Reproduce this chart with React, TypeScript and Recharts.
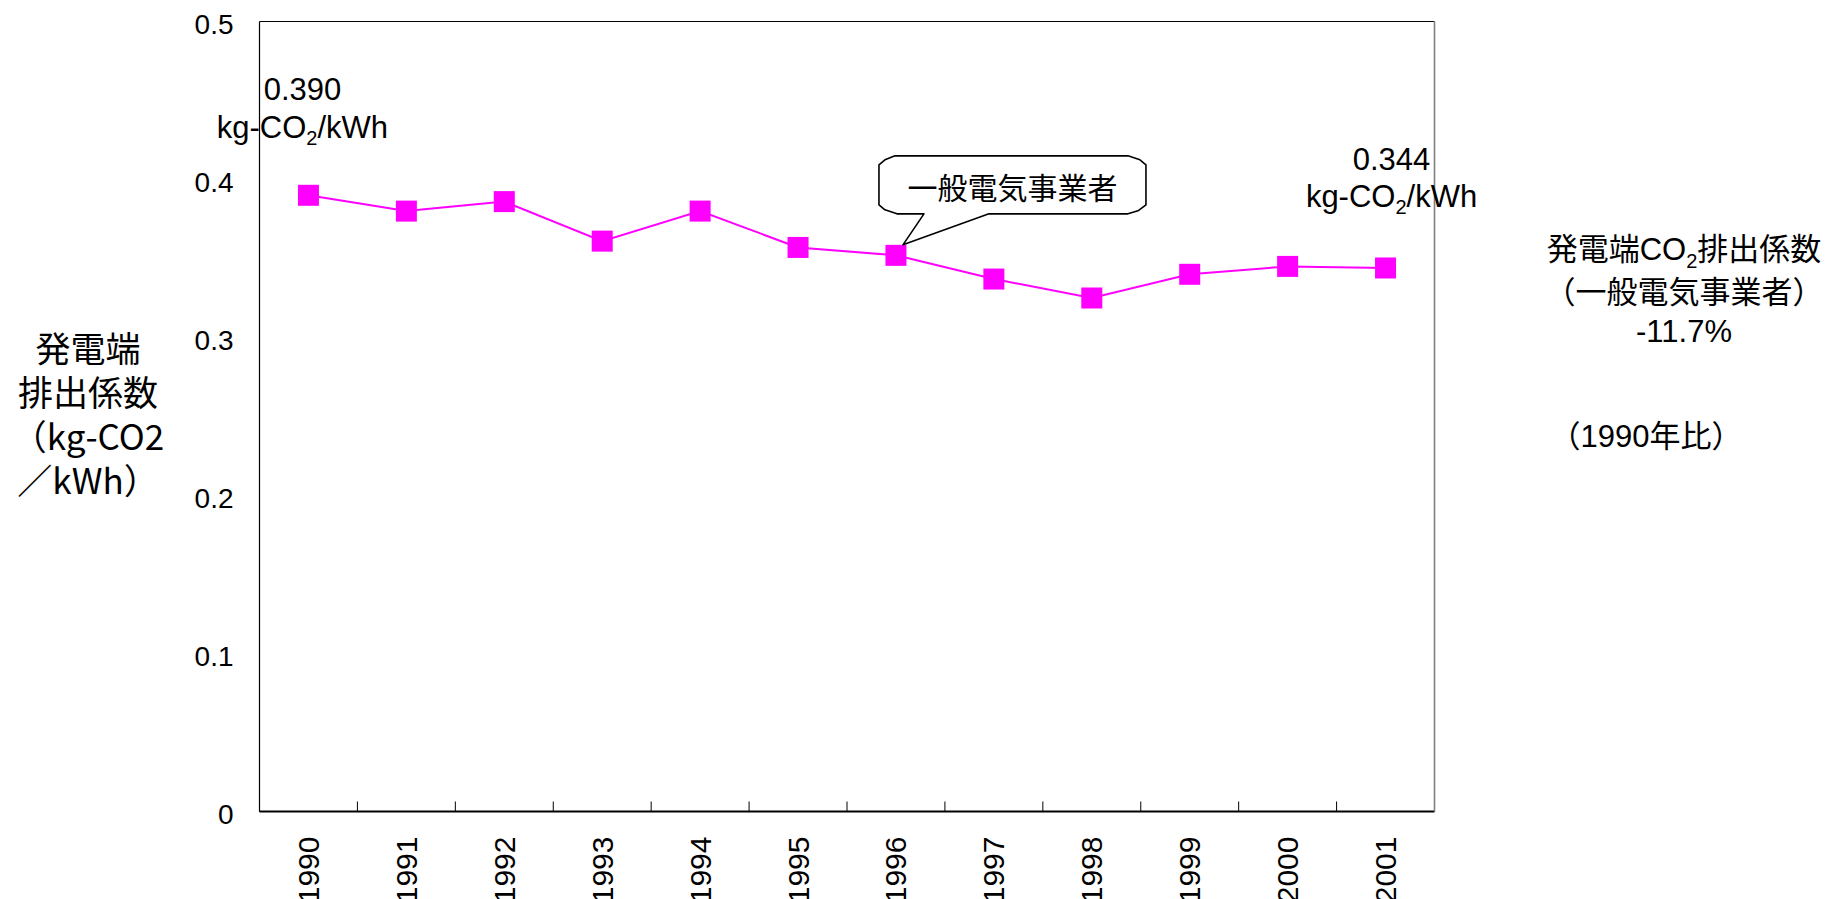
import React from 'react';
import { LineChart, Line, XAxis, YAxis, CartesianGrid, LabelList } from 'recharts';

// ---- data ----
const years = ['1990', '1991', '1992', '1993', '1994', '1995', '1996', '1997', '1998', '1999', '2000', '2001'];
const values = [0.390, 0.380, 0.386, 0.361, 0.380, 0.357, 0.352, 0.337, 0.325, 0.340, 0.345, 0.344];
const yTicks = [0, 0.1, 0.2, 0.3, 0.4, 0.5];
const seriesName = '一般電気事業者';
const calloutYear = '1996';
const unitPrefix = 'kg-CO';
const unitSub = '2';
const unitSuffix = '/kWh';
const yTitleLines = ['発電端', '排出係数', '（kg-CO2', '／kWh）'];
const noteTitleA = '発電端CO';
const noteTitleSub = '2';
const noteTitleB = '排出係数';
const noteLine2 = '（一般電気事業者）';
const noteLine3 = '-11.7%';
const noteBase = '（1990年比）';

const data = years.map((year, i) => ({ year, value: values[i] }));

// ---- layout ----
const W = 1831;
const H = 899;
const plotLeft = 259.5;
const plotRight = 1434.5;
const plotTop = 21.5;
const plotBottom = 811.5;
const bandHalf = (plotRight - plotLeft) / years.length / 2;
const LATIN = "'Liberation Sans', Arial, 'Noto Sans CJK JP', sans-serif";
const CJK = "'Noto Sans CJK JP', 'Noto Sans CJK SC', sans-serif";
const MAGENTA = '#FF00FF';

const XTick = (props: any) => {
  const { x, y, payload, index } = props;
  const ty = y + 25;
  return (
    <g>
      {index > 0 && (
        <line x1={x - bandHalf} x2={x - bandHalf} y1={y} y2={y - 10} stroke="#000" strokeWidth={1} />
      )}
      <text
        x={x}
        y={ty}
        transform={`rotate(-90, ${x}, ${ty})`}
        textAnchor="end"
        dominantBaseline="central"
        fontSize={30}
        fontFamily={LATIN}
        fill="#000"
      >
        {payload.value}
      </text>
    </g>
  );
};

const YTick = (props: any) => {
  const { x, y, payload } = props;
  const v = payload.value;
  return (
    <text x={x} y={y + 3} textAnchor="end" dominantBaseline="central" fontSize={28} fontFamily={LATIN} fill="#000">
      {v === 0 ? '0' : v.toFixed(1)}
    </text>
  );
};

const SquareDot = (props: any) => {
  const { cx, cy, index } = props;
  if (cx == null || cy == null) return null;
  const s = 21;
  return <rect key={`d${index}`} x={cx - s / 2} y={cy - s / 2} width={s} height={s} fill={MAGENTA} />;
};

const ValueLabel = ({ cx, base1, base2, value }: any) => (
  <g>
    <text x={cx} y={base1} textAnchor="middle" fontSize={31} fontFamily={LATIN} fill="#000">
      {Number(value).toFixed(3)}
    </text>
    <text x={cx} y={base2} textAnchor="middle" fontSize={31} fontFamily={LATIN} fill="#000">
      {unitPrefix}
      <tspan fontSize={20} dy={7}>{unitSub}</tspan>
      <tspan dy={-7}>{unitSuffix}</tspan>
    </text>
  </g>
);

const Callout = ({ cx, cy, text }: any) => {
  const L = cx - 17;
  const R = cx + 250;
  const T = cy - 99.5;
  const B = cy - 41.5;
  const tipX = cx + 7;
  const tipY = cy - 10.5;
  const d = [
    `M ${L + 16} ${T}`,
    `L ${R - 18} ${T}`,
    `L ${R - 6} ${T + 4}`,
    `L ${R} ${T + 9}`,
    `L ${R} ${B - 9}`,
    `L ${R - 8} ${B - 3}`,
    `L ${R - 18} ${B}`,
    `L ${cx + 93} ${B}`,
    `L ${tipX} ${tipY}`,
    `L ${cx + 28} ${B}`,
    `L ${L + 18} ${B}`,
    `L ${L + 6} ${B - 4}`,
    `L ${L} ${B - 9}`,
    `L ${L} ${T + 9}`,
    `L ${L + 6} ${T + 4}`,
    'Z',
  ].join(' ');
  return (
    <g>
      <path d={d} fill="#fff" stroke="#000" strokeWidth={1.6} strokeLinejoin="round" />
      <text
        x={(L + R) / 2}
        y={(T + B) / 2 + 1}
        textAnchor="middle"
        dominantBaseline="central"
        fontSize={30}
        fontFamily={CJK}
        fill="#000"
      >
        {text}
      </text>
    </g>
  );
};

const renderAnnotation = (props: any) => {
  const { index, value } = props;
  const px = props.x ?? props.viewBox?.x;
  const py = props.y ?? props.viewBox?.y;
  if (px == null || py == null) return null;
  if (index === 0) {
    return <ValueLabel key="a0" cx={px - 6} base1={py - 95} base2={py - 57} value={value} />;
  }
  if (index === data.length - 1) {
    return <ValueLabel key="aN" cx={px + 6} base1={py - 98} base2={py - 61} value={value} />;
  }
  if (data[index] && data[index].year === calloutYear) {
    return <Callout key="co" cx={px} cy={py} text={seriesName} />;
  }
  return null;
};

export default function App() {
  return (
    <div style={{ position: 'absolute', left: 0, top: 0, width: W, height: H, background: '#fff' }}>
      <LineChart
        width={W}
        height={H}
        data={data}
        margin={{ top: plotTop, right: W - plotRight - 1, bottom: 0, left: 0 }}
      >
        <CartesianGrid horizontal vertical={false} stroke="#000" strokeWidth={1} />
        <XAxis
          dataKey="year"
          type="category"
          interval={0}
          height={H - plotBottom}
          padding={{ left: bandHalf, right: bandHalf }}
          tickLine={false}
          tickSize={0}
          tickMargin={0}
          axisLine={{ stroke: '#000', strokeWidth: 2 }}
          tick={<XTick />}
        />
        <YAxis
          yAxisId="left"
          width={plotLeft}
          domain={[0, 0.5]}
          ticks={yTicks}
          interval={0}
          tickLine={false}
          tickSize={0}
          tickMargin={26}
          axisLine={{ stroke: '#000', strokeWidth: 1.2 }}
          tick={<YTick />}
        />
        <YAxis
          yAxisId="right"
          orientation="right"
          width={1}
          domain={[0, 0.5]}
          tick={false}
          tickLine={false}
          axisLine={{ stroke: '#808080', strokeWidth: 1.6 }}
        />
        <Line
          yAxisId="left"
          type="linear"
          dataKey="value"
          name={seriesName}
          stroke={MAGENTA}
          strokeWidth={2}
          dot={<SquareDot />}
          activeDot={false}
          isAnimationActive={false}
        >
          <LabelList dataKey="value" content={renderAnnotation} />
        </Line>
      </LineChart>

      <div
        style={{
          position: 'absolute',
          left: 0,
          top: 325,
          width: 176,
          textAlign: 'center',
          fontFamily: CJK,
          fontSize: 35,
          lineHeight: '44px',
          color: '#000',
          whiteSpace: 'nowrap',
        }}
      >
        {yTitleLines.map((t) => (
          <div key={t} style={{ height: 44 }}>{t}</div>
        ))}
      </div>

      <div
        style={{
          position: 'absolute',
          left: 1514,
          top: 230,
          width: 340,
          textAlign: 'center',
          fontFamily: LATIN,
          fontSize: 31,
          lineHeight: '39px',
          color: '#000',
          whiteSpace: 'nowrap',
        }}
      >
        <div>
          {noteTitleA}
          <span style={{ fontSize: 20, position: 'relative', top: 8 }}>{noteTitleSub}</span>
          {noteTitleB}
        </div>
        <div>{noteLine2}</div>
        <div>{noteLine3}</div>
      </div>

      <div
        style={{
          position: 'absolute',
          left: 1476,
          top: 417,
          width: 340,
          textAlign: 'center',
          fontFamily: LATIN,
          fontSize: 31,
          lineHeight: '39px',
          color: '#000',
          whiteSpace: 'nowrap',
        }}
      >
        {noteBase}
      </div>
    </div>
  );
}
